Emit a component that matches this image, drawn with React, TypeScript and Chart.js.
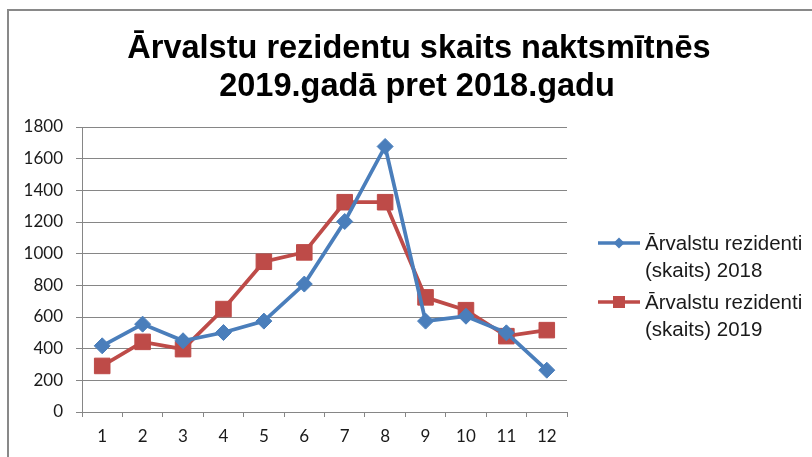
import React, { useEffect, useRef } from "react";
import { Chart, registerables } from "chart.js";

Chart.register(...registerables);

const months = ["1", "2", "3", "4", "5", "6", "7", "8", "9", "10", "11", "12"];
const residents2018 = [418, 555, 450, 502, 574, 808, 1203, 1677, 574, 605, 500, 264];
const residents2019 = [291, 443, 397, 650, 949, 1008, 1325, 1325, 724, 643, 479, 517];
const seriesLabels = [
  ["Ārvalstu rezidenti", "(skaits) 2018"],
  ["Ārvalstu rezidenti", "(skaits) 2019"],
];
const titleLines = ["Ārvalstu rezidentu skaits naktsmītnēs", "2019.gadā pret 2018.gadu"];

const BLUE = "#4A7EBB";
const RED = "#BE4B48";
const GRID = "#868686";

const decorPlugin = {
  id: "decor",
  afterDraw(chart: any) {
    const ctx = chart.ctx as CanvasRenderingContext2D;
    ctx.save();
    // frame
    ctx.fillStyle = "#898989";
    ctx.fillRect(7, 9, 2, 448);
    ctx.fillRect(7, 9, 805, 2);
    // title
    ctx.fillStyle = "#000";
    ctx.font = "bold 32.5px 'Liberation Sans', Arial, sans-serif";
    ctx.textAlign = "center";
    ctx.textBaseline = "alphabetic";
    ctx.fillText(titleLines[0], 419, 58);
    ctx.fillText(titleLines[1], 417, 96);
    // legend
    const colors = [BLUE, RED];
    const baseY = [243, 302];
    for (let i = 0; i < 2; i++) {
      const y = baseY[i];
      ctx.strokeStyle = colors[i];
      ctx.lineWidth = 3.5;
      ctx.beginPath();
      ctx.moveTo(598, y);
      ctx.lineTo(640, y);
      ctx.stroke();
      ctx.fillStyle = colors[i];
      if (i === 0) {
        ctx.beginPath();
        ctx.moveTo(619, y - 5.5);
        ctx.lineTo(624.5, y);
        ctx.lineTo(619, y + 5.5);
        ctx.lineTo(613.5, y);
        ctx.closePath();
        ctx.fill();
      } else {
        ctx.fillRect(613, y - 6, 12, 12);
      }
      ctx.fillStyle = "#1a1a1a";
      ctx.font = "20.5px 'Liberation Sans', Arial, sans-serif";
      ctx.textAlign = "left";
      ctx.textBaseline = "middle";
      ctx.fillText(seriesLabels[i][0], 645, y + 1);
      ctx.fillText(seriesLabels[i][1], 645, y + 28);
    }
    ctx.restore();
  },
};

export default function App() {
  const ref = useRef<HTMLCanvasElement>(null);
  useEffect(() => {
    if (!ref.current) return;
    const chart = new Chart(ref.current, {
      type: "line",
      data: {
        labels: months,
        datasets: [
          {
            label: seriesLabels[0].join(" "),
            data: residents2018,
            borderColor: BLUE,
            backgroundColor: BLUE,
            borderWidth: 3.75,
            pointStyle: "rectRot",
            pointRadius: 8,
            pointHoverRadius: 8,
            pointBorderWidth: 1,
            tension: 0,
          },
          {
            label: seriesLabels[1].join(" "),
            data: residents2019,
            borderColor: RED,
            backgroundColor: RED,
            borderWidth: 3.75,
            pointStyle: "rect",
            pointRadius: 11,
            pointHoverRadius: 11,
            pointBorderWidth: 1,
            tension: 0,
          },
        ],
      },
      options: {
        responsive: false,
        animation: false,
        layout: { padding: { left: 0, top: 127, right: 245, bottom: 0 } },
        plugins: {
          legend: { display: false },
          title: { display: false },
          tooltip: { enabled: false },
        },
        scales: {
          x: {
            type: "category",
            offset: true,
            grid: {
              offset: true,
              drawOnChartArea: false,
              drawTicks: true,
              tickLength: 5,
              color: GRID,
            },
            border: { display: true, color: GRID, width: 1 },
            ticks: {
              color: "#1a1a1a",
              padding: 9,
              font: { family: "Lato, 'Noto Sans', sans-serif", size: 17 },
              maxRotation: 0,
            },
            afterFit: (scale: any) => {
              scale.height = 45;
            },
          },
          y: {
            min: 0,
            max: 1800,
            grid: { color: GRID, drawTicks: true, tickLength: 6 },
            border: { display: true, color: GRID, width: 1 },
            ticks: {
              stepSize: 200,
              color: "#1a1a1a",
              padding: 13,
              font: { family: "Lato, 'Noto Sans', sans-serif", size: 17 },
              callback: (v: any) => String(v),
            },
            afterFit: (scale: any) => {
              scale.width = 82;
            },
          },
        },
      },
      plugins: [decorPlugin],
    });
    return () => chart.destroy();
  }, []);
  return (
    <div style={{ position: "fixed", left: 0, top: 0, width: 812, height: 457, background: "#fff" }}>
      <canvas ref={ref} width={812} height={457} style={{ display: "block" }} />
    </div>
  );
}
